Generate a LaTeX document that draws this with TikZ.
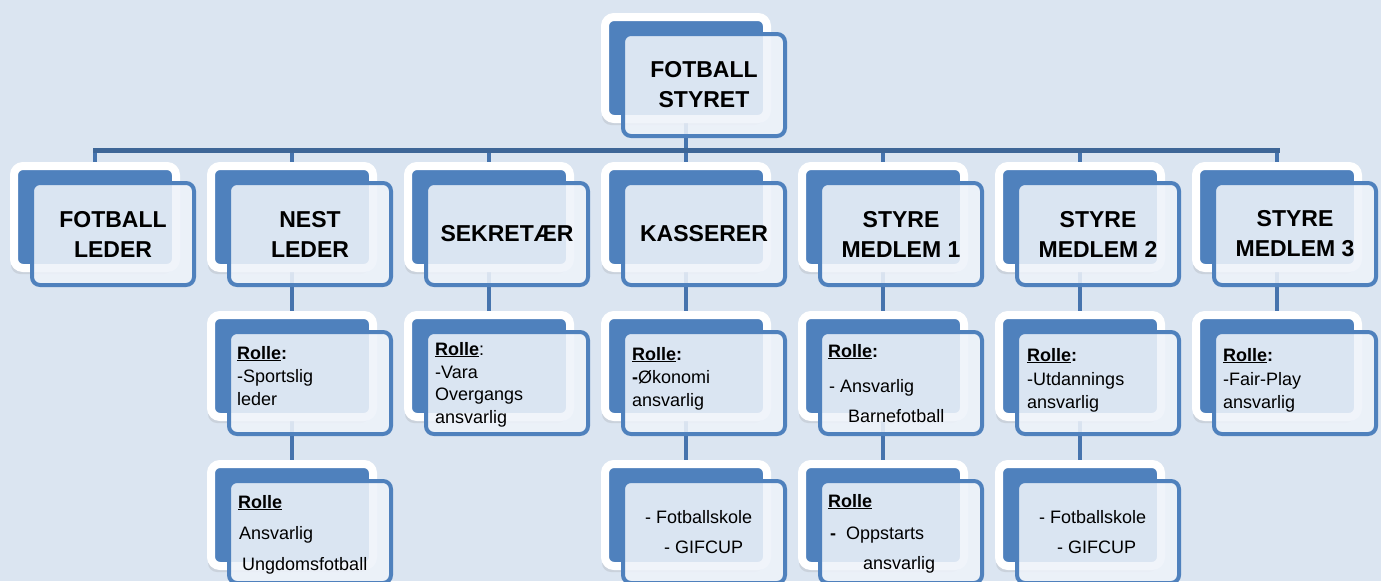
\documentclass[tikz,border=0pt]{standalone}
\usepackage{fontspec}
\setmainfont{Liberation Sans}
\usetikzlibrary{shadows}
\definecolor{bg}{HTML}{DBE5F1}
\definecolor{boxblue}{HTML}{4F81BD}
\definecolor{linecol}{HTML}{4674AE}
\definecolor{buscol}{HTML}{3E6697}
\definecolor{frontfill}{HTML}{EEF3FA}
\pgfdeclarelayer{bglayer}
\pgfsetlayers{bglayer,main}
\newcommand\orgunit[4]{%
  \node[backbox] (#1b) at (#2,#3) {};
  \node[frontbox] (#1) at (#2+18,#3+17) {#4};
}
\begin{document}
\begin{tikzpicture}[x=1pt,y=-1pt,
  backbox/.style={rectangle, rounded corners=9pt, minimum width=162pt, minimum height=102pt,
    inner sep=0pt, draw=white, line width=8pt, fill=boxblue,
    drop shadow={shadow xshift=-3pt, shadow yshift=-6pt, opacity=0.18}},
  frontbox/.style={rectangle, rounded corners=8pt, minimum width=162pt, minimum height=102pt,
    inner sep=0pt, draw=boxblue, line width=4pt, fill=frontfill, fill opacity=0.88,
    text opacity=1, align=center, font=\fontsize{23}{30}\selectfont\bfseries},
  roletext/.style={anchor=base west, inner sep=0pt, font=\fontsize{18}{22}\selectfont},
  conn/.style={draw=linecol, line width=4pt},
  bus/.style={draw=buscol, line width=5pt, line cap=rect},
]
\useasboundingbox (0,0) rectangle (1381,581);

% top
\orgunit{top}{686}{68}{FOTBALL\\STYRET}
% level 1
\orgunit{fl}{95}{217}{FOTBALL\\LEDER}
\orgunit{nl}{292}{217}{NEST\\LEDER}
\orgunit{sek}{489}{217}{SEKRETÆR}
\orgunit{kas}{686}{217}{KASSERER}
\orgunit{sma}{883}{217}{STYRE\\MEDLEM 1}
\orgunit{smb}{1080}{217}{STYRE\\MEDLEM 2}
\orgunit{smc}{1277}{217}{STYRE\\MEDLEM 3}
% level 2
\orgunit{nlr}{292}{366}{}
\orgunit{sekr}{489}{366}{}
\orgunit{kasr}{686}{366}{}
\orgunit{smar}{883}{366}{}
\orgunit{smbr}{1080}{366}{}
\orgunit{smcr}{1277}{366}{}
% level 3
\orgunit{nlrr}{292}{515}{}
\orgunit{kasrr}{686}{515}{}
\orgunit{smarr}{883}{515}{}
\orgunit{smbrr}{1080}{515}{}

% texts level 2
\node[roletext] (nlt1) at (237,359) {\textbf{\underline{Rolle}:}};
\node[roletext] (nlt2) at (237,382) {-Sportslig};
\node[roletext] (nlt3) at (237,405) {leder};
\node[roletext] (sekt1) at (435,355) {\textbf{\underline{Rolle}}:};
\node[roletext] (sekt2) at (435,378) {-Vara};
\node[roletext] (sekt3) at (435,400) {Overgangs};
\node[roletext] (sekt4) at (435,423) {ansvarlig};
\node[roletext] (kast1) at (632,360) {\textbf{\underline{Rolle}:}};
\node[roletext] (kast2) at (632,383) {\textbf{-}Økonomi};
\node[roletext] (kast3) at (632,406) {ansvarlig};
\node[roletext] (smat1) at (828,357) {\textbf{\underline{Rolle}:}};
\node[roletext] (smat2) at (829,392) {- Ansvarlig};
\node[roletext] (smat3) at (848,422) {Barnefotball};
\node[roletext] (smbt1) at (1027,361) {\textbf{\underline{Rolle}:}};
\node[roletext] (smbt2) at (1027,385) {-Utdannings};
\node[roletext] (smbt3) at (1027,408) {ansvarlig};
\node[roletext] (smct1) at (1223,361) {\textbf{\underline{Rolle}:}};
\node[roletext] (smct2) at (1223,385) {-Fair-Play};
\node[roletext] (smct3) at (1223,408) {ansvarlig};
% texts level 3
\node[roletext] (nlu1) at (238,508) {\textbf{\underline{Rolle}}};
\node[roletext] (nlu2) at (239,539) {Ansvarlig};
\node[roletext] (nlu3) at (242,570) {Ungdomsfotball};
\node[roletext] (kasu1) at (645,523) {- Fotballskole};
\node[roletext] (kasu2) at (664,553) {- GIFCUP};
\node[roletext] (smau1) at (828,507) {\textbf{\underline{Rolle}}};
\node[roletext] (smau2) at (830,539) {\textbf{-}\ \ Oppstarts};
\node[roletext] (smau3) at (863,569) {ansvarlig};
\node[roletext] (smbu1) at (1039,523) {- Fotballskole};
\node[roletext] (smbu2) at (1057,553) {- GIFCUP};

\begin{pgfonlayer}{bglayer}
  \fill[bg] (0,0) rectangle (1381,581);
  \coordinate (busL) at (95,150);
  \coordinate (busR) at (1277,150);
  \coordinate (busM) at (686,150);
  \draw[conn] (topb.center) -- (busM);
  \foreach \n in {fl,nl,sek,kas,sma,smb,smc}
    \draw[conn] (\n b.center |- busM) -- (\n b.center);
  \draw[bus] (busL) -- (busR);
  \foreach \a/\b in {nl/nlr,sek/sekr,kas/kasr,sma/smar,smb/smbr,smc/smcr,
                     nlr/nlrr,kasr/kasrr,smar/smarr,smbr/smbrr}
    \draw[conn] (\a b.center) -- (\b b.center);
\end{pgfonlayer}
\end{tikzpicture}
\end{document}
